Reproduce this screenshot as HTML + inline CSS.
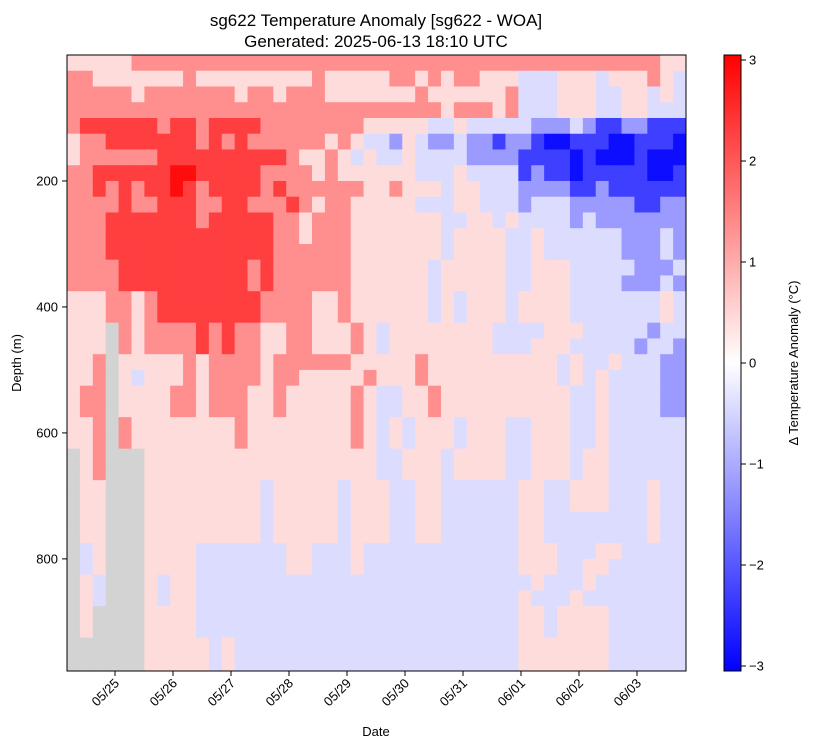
<!DOCTYPE html>
<html><head><meta charset="utf-8"><style>
body{margin:0;background:#fff;font-family:"Liberation Sans","DejaVu Sans",sans-serif}
svg text{font-family:"Liberation Sans","DejaVu Sans",sans-serif}
</style></head><body>
<svg id="chart" width="814" height="748" viewBox="0 0 814 748" xmlns="http://www.w3.org/2000/svg">
<text x="376" y="26" text-anchor="middle" font-size="17">sg622 Temperature Anomaly [sg622 - WOA]</text>
<text x="376" y="47" text-anchor="middle" font-size="17">Generated: 2025-06-13 18:10 UTC</text>
<g id="cells"></g>
<rect x="67" y="55" width="619" height="616" fill="none" stroke="#000" stroke-width="1"/>
<g id="yaxis"></g>
<g id="xaxis"></g>
<text transform="translate(21,363) rotate(-90)" text-anchor="middle" font-size="13">Depth (m)</text>
<text x="376" y="736" text-anchor="middle" font-size="13">Date</text>
<defs><linearGradient id="cbg" x1="0" y1="0" x2="0" y2="1">
<stop offset="0" stop-color="#ff0000"/><stop offset="0.5" stop-color="#ffffff"/><stop offset="1" stop-color="#0000ff"/></linearGradient></defs>
<rect x="724" y="55" width="17" height="616" fill="url(#cbg)" stroke="#000" stroke-width="1"/>
<g id="cbaxis"></g>
<text transform="translate(798,363) rotate(-90)" text-anchor="middle" font-size="13">Δ Temperature Anomaly (°C)</text>
</svg>
<script>
// depth bins of 25 m, columns in time order; letter codes map to anomaly values
const levelCodes = ['R','r','s','p','l','m','b','B','g'];
const levelValues = [2.9, 2.3, 1.35, 0.42, -0.42, -1.2, -2.3, -2.9, null];
const depthBinSize = 25;
const dayTicks = [0,1,2,3,4,5,6,7,8,9];
const dayLabels = ['05/25','05/26','05/27','05/28','05/29','05/30','05/31','06/01','06/02','06/03'];
const depthTicks = [200,400,600,800];
const cbTicks = [3,2,1,0,-1,-2,-3];
const grid = [
"pppppsssssssssssssssssss"+"sssssssssssssssssssssspp",
"ssppppppps"+"ppppppppp"+"s"+"pppp"+"psspspssppplllppplpppspl",
"sssssp"+"sssssssp"+"ssp"+"ssspppp"+"pppspppppps"+"lllppp"+"llpplpl",
"ssssssssssssssssssssssss"+"ssssspssspslllppp"+"llpplll",
"srrrrrrsrrsrrrrssssssssp"+"ppppllplllllmmmlmbbmmbbb",
"pssrrrrrrrsrsrsssssspspl"+"lmplmmlmmbmmbBBbbbBBbbbB",
"pssssssrrrrrrrrrrsppsplp"+"llpllllmmmmbbbbBbBBBbBBB",
"ssrrrrrrRRrrrrrsssspsppp"+"ppplllpllllbmbbBbbbbbBBb",
"ssrsrsrrRrsrrrrsrssssssp"+"psppplpplllmmmmbbmbbbbbb",
"ssssrssrrrssrrsssrspsspp"+"ppplllpplllmlllmmmmmbbmm",
"sssrrrrrrrsrrrrrsspssspp"+"pppppllpplpllllmlmmmmmmm",
"sssrrrrrrrrrrrrrsspssspp"+"ppppplppppllpllllllmmmlm",
"sssrrrrrrrrrrrrrsssssspp"+"ppppplppppllpllllllmmmlm",
"ssssrrrrrrrrrrsrsssssspp"+"pppplpppppllppplllllmmml",
"ssssrrrrrrrrrrsrsssssspp"+"pppplpppppllpppllllmmmlm",
"pppsspsrrrrrrrrssssppspp"+"pppplplppplpppplllllllpl",
"pppsspsrrrrrrrrssssppspp"+"pppplplppplpppplllllllpl",
"pppgspssssrsrssppsspppsp"+"lppppppppllllppplllllmll",
"pppgspssssrsrssppsspppsp"+"lpppppppplllppplllllmllm",
"ppsgpppppspsssspsssssspp"+"pppspppppppppplpllplllmm",
"ppsgplpppspsssspsspppppsp".slice(0,24)+"pppspppppppppplplpllllmm",
"pssgppppsspsssppspppppsp"+"llppsppppppppppllpllllmm",
"pssgppppsspsssppspppppsp"+"llppsppppppppppllpllllmm",
"ppsgsppppppppsppppppppsp"+"lplppplpppllppp"+"llpllllll",
"ppsgsppppppppsppppppppsp"+"lplppplpppllppp"+"llplllll"+"l",
"gpsgggpppppppppppppppppp"+"llppplppppllppplppllllll",
"gpsgggpppppppppppppppppp"+"llppplppppllppplppllllll",
"gppgggppppppppplppppplpp"+"pllppllllllppllppplllpll",
"gppgggppppppppplppppplpp"+"pllppllllllppllppplllpll",
"gppgggppppppppplppppplpp"+"pllppllllllppllllllllpll",
"gppgggppppppppplppppplpp"+"pllppllllllppllllllllpll",
"glpgggpppplllllllpplllpl"+"lllllllllllppplllppllllll".slice(0,24),
"glpgggpppplllllllpplllpl"+"lllllllllllpppllppllllll",
"gplgggplppllllllllllllll"+"llllllllllllplllpllllllll".slice(0,24),
"gplgggplppllllllllllllll"+"lllllllllllplllpllllllll",
"gpggggppppllllllllllllll"+"lllllllllllpplppppllllll",
"gpggggppppllllllllllllll"+"lllllllllllpplppppllllll",
"ggggggppppplplllllllllll"+"lllllllllllpppppppllllll",
"ggggggppppplplllllllllll"+"lllllllllllpppppppllllll",
"ggggggppppplplllllllllll"+"lllllllllllpppppppllllll"
];
const X0=67, X1=686, Y0=55, Y1=671, NC=48, DMAX=978;
const DAY_X0=115, DAY_W=58;
function xCol(c){return X0 + c*(X1-X0)/NC;}
function xDay(d){return DAY_X0 + d*DAY_W;}
function yDepth(d){return Y0 + d*(Y1-Y0)/DMAX;}
function cbY(v){return 363 - v*101;}
function color(v){
  if(v===null) return '#d3d3d3';
  let t=Math.max(-1,Math.min(1,v/3.05));
  if(t>=0){const g=Math.round(255*(1-t));return `rgb(255,${g},${g})`;}
  const g=Math.round(255*(1+t));return `rgb(${g},${g},255)`;
}
const NS='http://www.w3.org/2000/svg';
const cells=document.getElementById('cells');
grid.forEach((row,j)=>{
  for(let c=0;c<NC;c++){
    const ch=row[c]||'l';
    const v=levelValues[levelCodes.indexOf(ch)];
    const x=xCol(c), y=yDepth(j*depthBinSize);
    if(y>=Y1) continue;
    const y2=Math.min(Y1,yDepth((j+1)*depthBinSize));
    const r=document.createElementNS(NS,'rect');
    r.setAttribute('x',x.toFixed(2));r.setAttribute('y',y.toFixed(2));
    r.setAttribute('width',(xCol(c+1)-x+0.4).toFixed(2));r.setAttribute('height',(y2-y+0.4).toFixed(2));
    r.setAttribute('fill',color(v));
    
    
    cells.appendChild(r);
  }
});
const ya=document.getElementById('yaxis');
depthTicks.forEach(d=>{
  const y=yDepth(d);
  const l=document.createElementNS(NS,'line');
  l.setAttribute('x1',62);l.setAttribute('x2',67);l.setAttribute('y1',y);l.setAttribute('y2',y);l.setAttribute('stroke','#000');
  
  
  ya.appendChild(l);
  const t=document.createElementNS(NS,'text');
  t.setAttribute('x',58);t.setAttribute('y',y+4.5);t.setAttribute('text-anchor','end');t.setAttribute('font-size','13');
  t.textContent=d;
  
  
  ya.appendChild(t);
});
const xa=document.getElementById('xaxis');
dayTicks.forEach((d,i)=>{
  const x=xDay(d);
  const l=document.createElementNS(NS,'line');
  l.setAttribute('x1',x);l.setAttribute('x2',x);l.setAttribute('y1',671);l.setAttribute('y2',676);l.setAttribute('stroke','#000');
  
  
  xa.appendChild(l);
  const t=document.createElementNS(NS,'text');
  t.setAttribute('transform',`translate(${x+5},${684}) rotate(-45)`);
  t.setAttribute('text-anchor','end');t.setAttribute('font-size','13');
  t.textContent=dayLabels[i];
  
  
  xa.appendChild(t);
});
const ca=document.getElementById('cbaxis');
cbTicks.forEach(v=>{
  const y=cbY(v);
  const l=document.createElementNS(NS,'line');
  l.setAttribute('x1',741);l.setAttribute('x2',746);l.setAttribute('y1',y);l.setAttribute('y2',y);l.setAttribute('stroke','#000');
  
  
  ca.appendChild(l);
  const t=document.createElementNS(NS,'text');
  t.setAttribute('x',749);t.setAttribute('y',y+4.5);t.setAttribute('font-size','13');
  t.textContent=v<0?'\u2212'+(-v):String(v);
  
  
  ca.appendChild(t);
});
</script>
</body></html>
